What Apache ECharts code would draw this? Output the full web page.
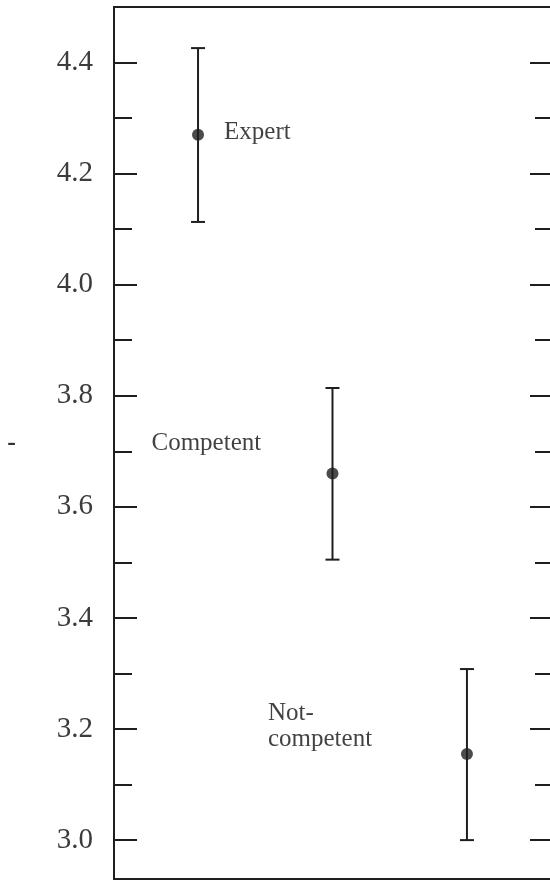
<!DOCTYPE html>
<html>
<head>
<meta charset="utf-8">
<script src="https://cdn.jsdelivr.net/npm/echarts@6/dist/echarts.min.js"></script>
<style>
  html, body { margin: 0; padding: 0; background: #fff; overflow: hidden; }
  /* the right frame of the original plot sits just past the picture's edge */
  #chart { width: 556px; height: 881px; }
</style>
</head>
<body>
<div id="chart"></div>
<script>
// groups along the x axis (positions 1, 2, 3)
const groups = ['Expert', 'Competent', 'Not-\ncompetent']
const means = [4.27, 3.66, 3.155]
const lows = [4.113, 3.505, 3.0]
const highs = [4.426, 3.814, 3.308]

// y tick values
const majorTicks = [3.0, 3.2, 3.4, 3.6, 3.8, 4.0, 4.2, 4.4]
const minorTicks = [3.1, 3.3, 3.5, 3.7, 3.9, 4.1, 4.3]

// label placement relative to each point
const labelOffsets = [[26, -2], [-181, -30], [-199, -28]]

const ink = '#1e1e1e'
const serif = 'Liberation Serif'

const chart = echarts.init(document.getElementById('chart'))

const yBase = {
  type: 'value',
  min: 2.93,
  max: 4.5,
  splitLine: { show: false },
  axisLine: { show: false }
}

const tickAxis = (position, values, length, withLabels) => ({
  ...yBase,
  position: position,
  axisTick: {
    show: true,
    inside: true,
    length: length,
    customValues: values,
    lineStyle: { color: ink, width: 2 }
  },
  axisLabel: withLabels
    ? {
        show: true,
        customValues: values,
        margin: 21,
        color: '#3c3c3c',
        fontFamily: serif,
        fontSize: 29,
        formatter: (v) => v.toFixed(1)
      }
    : { show: false }
})

const yMain = tickAxis('left', majorTicks, 23, true)
yMain.name = '-'
yMain.nameLocation = 'middle'
yMain.nameGap = 98
yMain.nameRotate = 0
yMain.nameTextStyle = { color: '#333', fontFamily: serif, fontSize: 26, fontWeight: 'bold' }

const option = {
  backgroundColor: '#fff',
  animation: false,
  grid: {
    left: 114,
    right: 3,
    top: 7,
    bottom: 2,
    show: true,
    borderColor: ink,
    borderWidth: 2
  },
  xAxis: {
    type: 'value',
    min: 0.375,
    max: 3.64,
    show: false
  },
  yAxis: [
    yMain,
    tickAxis('left', minorTicks, 18, false),
    tickAxis('right', majorTicks, 23, false),
    tickAxis('right', minorTicks, 18, false)
  ],
  series: [
    {
      // error bars
      type: 'custom',
      yAxisIndex: 0,
      data: groups.map((g, i) => [i + 1, lows[i], highs[i]]),
      renderItem: (params, api) => {
        const lo = api.coord([api.value(0), api.value(1)])
        const hi = api.coord([api.value(0), api.value(2)])
        const half = 7
        const style = { stroke: ink, lineWidth: 2 }
        return {
          type: 'group',
          children: [
            { type: 'line', shape: { x1: hi[0], y1: hi[1], x2: lo[0], y2: lo[1] }, style },
            { type: 'line', shape: { x1: hi[0] - half, y1: hi[1], x2: hi[0] + half, y2: hi[1] }, style },
            { type: 'line', shape: { x1: lo[0] - half, y1: lo[1], x2: lo[0] + half, y2: lo[1] }, style }
          ]
        }
      },
      z: 2
    },
    {
      type: 'scatter',
      yAxisIndex: 0,
      symbol: 'circle',
      symbolSize: 12,
      itemStyle: { color: ink },
      data: groups.map((g, i) => ({
        name: g,
        value: [i + 1, means[i]],
        label: { offset: labelOffsets[i] }
      })),
      label: {
        show: true,
        position: 'inside',
        align: 'left',
        verticalAlign: 'middle',
        formatter: (p) => p.name,
        color: '#111',
        fontFamily: serif,
        fontSize: 25,
        lineHeight: 26
      },
      z: 3
    }
  ]
}

chart.setOption(option)
</script>
</body>
</html>
